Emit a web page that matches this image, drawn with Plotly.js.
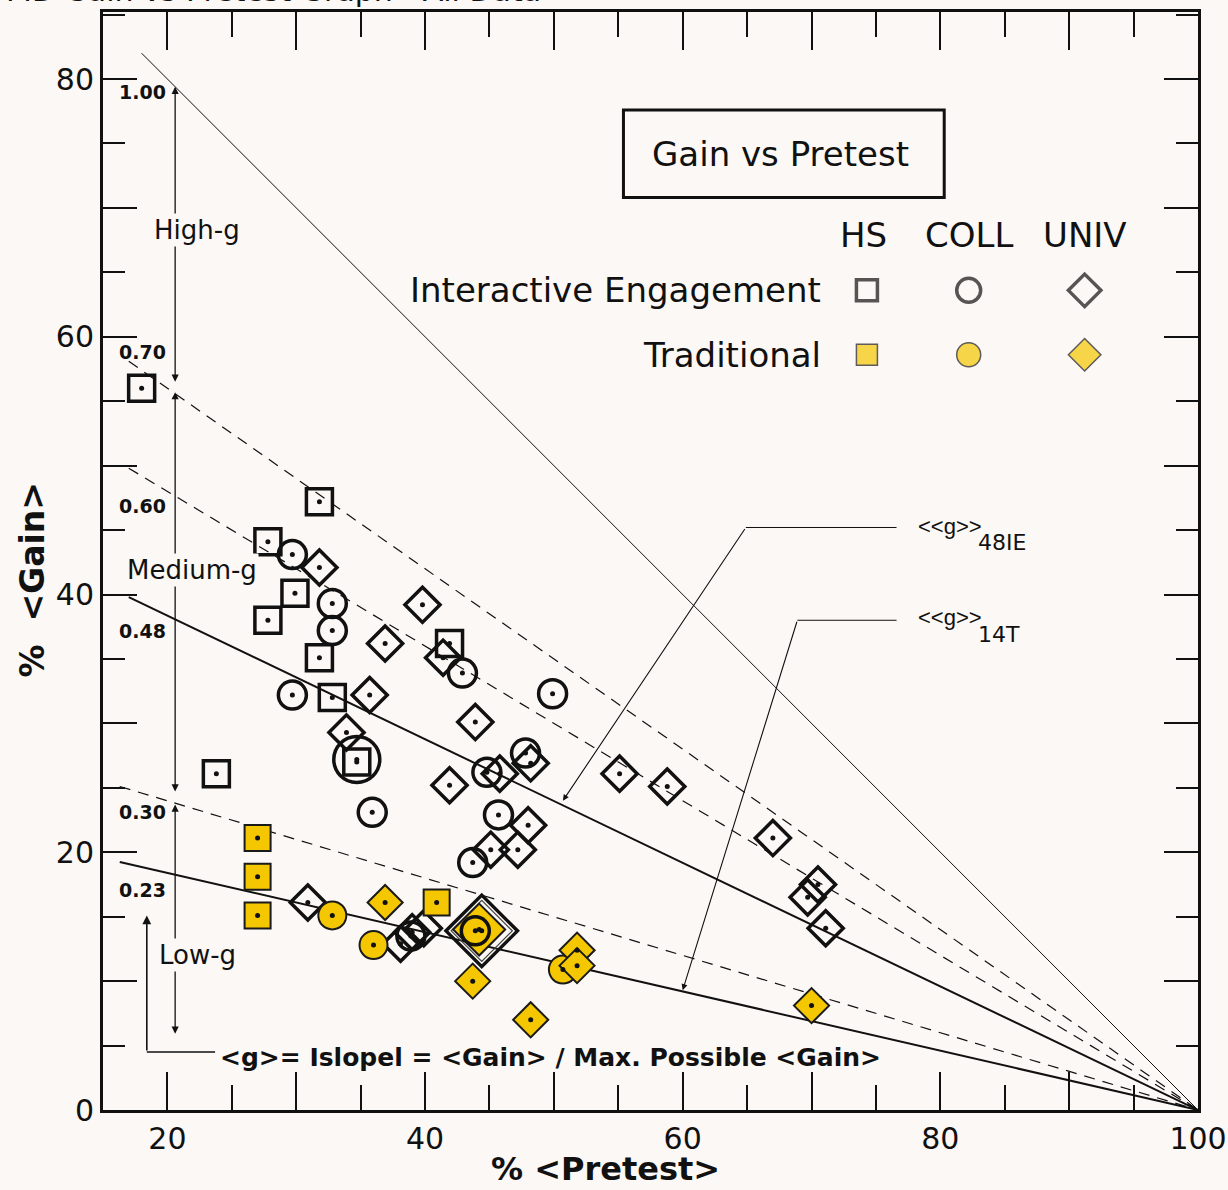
<!DOCTYPE html>
<html>
<head>
<meta charset="utf-8">
<script src="https://cdn.plot.ly/plotly-3.0.1.min.js"></script>
<style>html,body{margin:0;padding:0;background:#fcf8f5;}</style>
</head>
<body>
<div id="chart" style="width:1228px;height:1190px;"></div>
<script>
// ---------- data ----------
// Interactive Engagement, high school (open squares)
const hsIE_x = [18.0, 31.8, 27.8, 29.9, 27.8, 31.8, 32.8, 23.8, 34.7, 41.9];
const hsIE_y = [56.0, 47.2, 44.1, 40.1, 38.0, 35.1, 32.0, 26.1, 27.0, 36.2];
// Interactive Engagement, college (open circles)
const collIE_x = [29.7, 32.8, 32.8, 29.7, 35.9, 42.9, 49.9, 44.8, 47.8, 45.7, 43.7, 38.9, 43.9];
const collIE_y = [43.1, 39.3, 37.2, 32.2, 23.1, 33.9, 32.3, 26.2, 27.7, 22.9, 19.2, 13.5, 13.9];
const collIELarge_x = [34.7];
const collIELarge_y = [27.2];
// Interactive Engagement, university (open diamonds)
const univIE_x = [31.8, 39.8, 36.9, 35.7, 33.9, 43.9, 41.9, 45.8, 48.2, 48.0, 47.2, 45.1, 55.1, 58.8, 67.0, 70.5, 69.7, 71.1, 30.9, 38.1, 39.0, 39.9, 41.4];
const univIE_y = [42.1, 39.2, 36.2, 32.2, 29.3, 30.1, 25.2, 26.1, 26.9, 22.1, 20.2, 20.2, 26.1, 25.1, 21.1, 17.5, 16.5, 14.1, 16.1, 12.9, 13.8, 14.1, 35.1];
const univIELarge_x = [44.4];
const univIELarge_y = [13.9];
// Traditional (yellow)
const hsTrad_x = [27.0, 27.0, 27.0, 40.9];
const hsTrad_y = [21.1, 18.1, 15.1, 16.1];
const collTrad_x = [32.8, 36.0, 50.7];
const collTrad_y = [15.1, 12.8, 10.9];
const univTrad_x = [36.9, 43.7, 48.2, 51.8, 51.8, 70.0];
const univTrad_y = [16.1, 10.0, 7.0, 12.4, 11.2, 8.1];
const univTradLarge_x = [44.2];
const univTradLarge_y = [14.0];
// <g> reference lines: slope labels, start point of each line (all end at 100, 0)
const gLabels = ['1.00', '0.70', '0.60', '0.48', '0.30', '0.23'];
const gStartX = [18.0, 17.0, 17.0, 17.0, 16.3, 16.3];
const gStartY = [82.0, 58.1, 49.8, 39.8, 25.1, 19.25];
const gEndX = 100, gEndY = 0;
const xTickVals = [20, 30, 40, 50, 60, 70, 80, 90, 100];
const xTickText = ['20', '', '40', '', '60', '', '80', '', '100'];
const yTickVals = [0, 10, 20, 30, 40, 50, 60, 70, 80];
const yTickText = ['0', '', '20', '', '40', '', '60', '', '80'];

// ---------- styles ----------
const INK = '#111111';
const YEL = '#f4c700';
const BG = '#fcf8f5';
const FONT = 'DejaVu Sans, Liberation Sans, Arial, sans-serif';
const FONT2 = 'Liberation Sans, Arial, sans-serif';

const traces = [];
const gStyles = [
  {width: 1, dash: 'solid'},
  {width: 1.2, dash: '11px,8px'},
  {width: 1.2, dash: '11px,8px'},
  {width: 2, dash: 'solid'},
  {width: 1.2, dash: '11px,8px'},
  {width: 2, dash: 'solid'}
];
gLabels.forEach((g, i) => {
  traces.push({x: [gStartX[i], gEndX], y: [gStartY[i], gEndY], mode: 'lines',
    line: {color: INK, width: gStyles[i].width, dash: gStyles[i].dash},
    hoverinfo: 'skip', showlegend: false});
});

function open(x, y, symbol, size, lw, color) {
  return {x: x, y: y, mode: 'markers', showlegend: false, hoverinfo: 'x+y',
    marker: {symbol: symbol, size: size, color: 'rgba(0,0,0,0)', line: {color: color || INK, width: lw}}};
}
function filled(x, y, symbol, size) {
  return {x: x, y: y, mode: 'markers', showlegend: false, hoverinfo: 'x+y',
    marker: {symbol: symbol, size: size, color: YEL, line: {color: '#1a1a1a', width: 2}}};
}

traces.push(open(univIELarge_x, univIELarge_y, 'diamond', 55, 3.5));
traces.push(open(univIELarge_x, univIELarge_y, 'diamond', 47, 1.3, '#444'));
traces.push(filled(univTradLarge_x, univTradLarge_y, 'diamond', 40));
traces.push(open(hsIE_x, hsIE_y, 'square', 26, 3.5));
traces.push(open(collIE_x, collIE_y, 'circle', 28, 3.5));
traces.push(open(univIE_x, univIE_y, 'diamond', 27, 3.5));
traces.push(open(collIELarge_x, collIELarge_y, 'circle', 46, 3.5));
traces.push(filled(hsTrad_x, hsTrad_y, 'square', 26));
traces.push(filled(collTrad_x, collTrad_y, 'circle', 28));
traces.push(filled(univTrad_x, univTrad_y, 'diamond', 27));

// center dots
const dotX = [].concat(hsIE_x, collIE_x, collIELarge_x, univIE_x, univIELarge_x, hsTrad_x, collTrad_x, univTrad_x, univTradLarge_x);
const dotY = [].concat(hsIE_y, collIE_y, collIELarge_y, univIE_y, univIELarge_y, hsTrad_y, collTrad_y, univTrad_y, univTradLarge_y);
traces.push({x: dotX, y: dotY, mode: 'markers', showlegend: false, hoverinfo: 'skip',
  marker: {symbol: 'circle', size: 5, color: INK}});

// legend swatches (layout positions in axis units)
const legCols = [74.3, 82.2, 91.2];
const legRows = [63.6, 58.6];
traces.push({x: legCols, y: [legRows[0], legRows[0], legRows[0]], mode: 'markers', showlegend: false, hoverinfo: 'skip',
  marker: {symbol: ['square', 'circle', 'diamond'], size: [21, 24, 25], color: 'rgba(0,0,0,0)', line: {color: INK, width: 3.5}}});
traces.push({x: legCols, y: [legRows[1], legRows[1], legRows[1]], mode: 'markers', showlegend: false, hoverinfo: 'skip',
  marker: {symbol: ['square', 'circle', 'diamond'], size: [21, 24, 25], color: YEL, line: {color: '#1a1a1a', width: 1.5}}});

// ---------- annotations ----------
const ann = [];
function txt(x, y, text, size, opts, fam) {
  return Object.assign({x: x, y: y, xref: 'x', yref: 'y', text: text, showarrow: false,
    font: {family: fam || FONT, size: size, color: INK}}, opts || {});
}
function ptxt(x, y, text, size, opts) {
  return Object.assign({x: x, y: y, xref: 'paper', yref: 'paper', xanchor: 'center', yanchor: 'middle',
    text: text, showarrow: false, font: {family: FONT, size: size, color: INK}}, opts || {});
}
function arrow(hx, hy, tx, ty, side, w) {
  return {x: hx, y: hy, ax: tx, ay: ty, xref: 'x', yref: 'y', axref: 'x', ayref: 'y', text: '',
    showarrow: true, arrowhead: 2, arrowsize: 1.1, arrowwidth: w || 1.3, arrowcolor: INK, arrowside: side || 'end'};
}
// g labels
const gLabelY = [79.0, 58.8, 46.9, 37.2, 23.1, 17.1];
gLabels.forEach((g, i) => ann.push(txt(16.1, gLabelY[i], '<b>' + g + '</b>', 19, {xanchor: 'left'})));
// g regions
ann.push(arrow(20.6, 79.4, 20.6, 56.4, 'end+start'));
ann.push(arrow(20.6, 55.7, 20.6, 24.6, 'end+start'));
ann.push(arrow(20.6, 23.7, 20.6, 5.8, 'end+start'));
ann.push(txt(22.3, 68.3, 'High-g', 26, {bgcolor: BG}));
ann.push(txt(21.9, 41.9, 'Medium-g', 26, {bgcolor: BG}));
ann.push(txt(22.3, 12.0, 'Low-g', 26, {bgcolor: BG}));
// slope definition
ann.push(arrow(18.4, 15.1, 18.4, 4.5, 'end', 1.6));
ann.push(txt(23.9, 4.1, '<b>&lt;g&gt;= Islopel = &lt;Gain&gt; / Max. Possible &lt;Gain&gt;</b>', 25, {xanchor: 'left'}));
// average g lines callouts
ann.push(arrow(50.7, 24.0, 64.9, 45.2, 'end', 1.1));
ann.push(arrow(60.0, 9.3, 68.9, 38.0, 'end', 1.1));
ann.push(txt(78.1, 45.3, '&lt;&lt;g&gt;&gt;', 22, {xanchor: 'left'}, FONT2));
ann.push(txt(82.8, 44.0, '48IE', 22, {xanchor: 'left'}));
ann.push(txt(78.1, 38.2, '&lt;&lt;g&gt;&gt;', 22, {xanchor: 'left'}, FONT2));
ann.push(txt(82.8, 36.9, '14T', 22, {xanchor: 'left'}));
// legend block
ann.push(txt(67.6, 74.2, 'Gain vs Pretest', 34));
ann.push(txt(74.0, 67.9, 'HS', 34));
ann.push(txt(82.2, 67.9, 'COLL', 34));
ann.push(txt(91.2, 67.9, 'UNIV', 34));
ann.push(txt(70.9, 63.6, 'Interactive Engagement', 34, {xanchor: 'right'}));
ann.push(txt(70.9, 58.6, 'Traditional', 34, {xanchor: 'right'}));
// axis titles
ann.push(ptxt(0.459, -0.0535, '<b>% &lt;Pretest&gt;</b>', 32));
ann.push(ptxt(-0.064, 0.483, '<b>%  &lt;Gain&gt;</b>', 33, {textangle: -90}));
// clipped figure title at the very top (cut off in the original too)
ann.push({x: -0.09, y: 1.0022, xref: 'paper', yref: 'paper', xanchor: 'left', yanchor: 'bottom',
  text: 'MD Gain vs Pretest Graph - All Data', showarrow: false,
  font: {family: FONT, size: 30, color: INK}});

const shapes = [
  {type: 'rect', xref: 'x', yref: 'y', x0: 55.4, x1: 80.3, y0: 70.8, y1: 77.6, line: {color: INK, width: 3}},
  {type: 'line', xref: 'x', yref: 'y', x0: 64.9, x1: 76.6, y0: 45.2, y1: 45.2, line: {color: INK, width: 1}},
  {type: 'line', xref: 'x', yref: 'y', x0: 68.9, x1: 76.6, y0: 38.0, y1: 38.0, line: {color: INK, width: 1}},
  {type: 'line', xref: 'x', yref: 'y', x0: 18.4, x1: 23.7, y0: 4.5, y1: 4.5, line: {color: INK, width: 1.6}}
];

const axisCommon = {
  showgrid: false, zeroline: false, showline: true, linecolor: INK, linewidth: 3,
  mirror: 'allticks', ticks: 'inside', tickcolor: INK, tickwidth: 2,
  tickfont: {family: FONT, size: 30, color: INK}, tickmode: 'array'
};

const layout = {
  width: 1228, height: 1190,
  margin: {l: 103, r: 30, t: 12, b: 80},
  paper_bgcolor: BG, plot_bgcolor: BG,
  showlegend: false,
  xaxis: Object.assign({}, axisCommon, {
    range: [15, 100], tickvals: xTickVals, ticktext: xTickText, ticklen: 38,
    minor: {tickmode: 'linear', tick0: 0, dtick: 5, ticks: 'inside', ticklen: 25, tickcolor: INK, tickwidth: 2}
  }),
  yaxis: Object.assign({}, axisCommon, {
    range: [0, 85.2], tickvals: yTickVals, ticktext: yTickText, ticklen: 34,
    minor: {tickmode: 'linear', tick0: 0, dtick: 5, ticks: 'inside', ticklen: 22, tickcolor: INK, tickwidth: 2}
  }),
  annotations: ann,
  shapes: shapes
};

Plotly.newPlot('chart', traces, layout, {displayModeBar: false, staticPlot: true});
</script>
</body>
</html>
